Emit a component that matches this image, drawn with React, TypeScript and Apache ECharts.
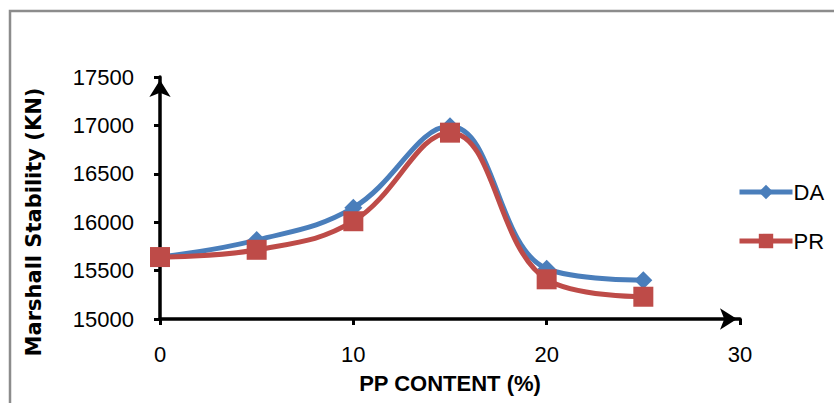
import React, { useEffect, useRef } from "react";
import * as echarts from "echarts";

const ppContent = [0, 5, 10, 15, 20, 25];
const daValues = [15640, 15815, 16150, 16990, 15520, 15400];
const prValues = [15640, 15715, 16010, 16925, 15410, 15230];
const seriesNames = ["DA", "PR"];
const xTitle = "PP CONTENT (%)";
const yTitle = "Marshall Stability (KN)";

export default function App() {
  const ref = useRef<HTMLDivElement>(null);
  useEffect(() => {
    const chart = echarts.init(ref.current!, null, { renderer: "svg" });
    const tickFont = { fontFamily: "Liberation Sans", fontSize: 22, color: "#000" };
    chart.setOption({
      animation: false,
      backgroundColor: "#fff",
      graphic: [
        {
          type: "polyline",
          shape: { points: [[10, 403], [10, 11], [834, 11]] },
          style: { stroke: "#8c8c8c", lineWidth: 2.5, fill: "none" },
          silent: true,
        },
        {
          type: "text",
          x: 34,
          y: 222,
          rotation: Math.PI / 2,
          style: {
            text: yTitle,
            fontFamily: "DejaVu Sans",
            fontWeight: "bold",
            fontSize: 21,
            fill: "#000",
            align: "center",
            verticalAlign: "middle",
          },
          silent: true,
        },
      ],
      grid: { left: 160, right: 94, top: 77, bottom: 84 },
      legend: {
        orient: "vertical",
        left: 732,
        top: 176,
        itemWidth: 53,
        itemHeight: 18,
        itemGap: 27,
        lineStyle: { width: 5 },
        textStyle: { ...tickFont, fontSize: 22, padding: [0, 0, 0, -4] },
        data: seriesNames,
      },
      xAxis: {
        type: "value",
        min: 0,
        max: 30,
        interval: 10,
        name: xTitle,
        nameLocation: "middle",
        nameGap: 53,
        nameTextStyle: { fontFamily: "Liberation Sans", fontWeight: "bold", fontSize: 22, color: "#000" },
        axisLine: { lineStyle: { color: "#000", width: 3.5 }, symbol: ["none", "arrow"], symbolSize: [16, 17], symbolOffset: [0, -3] },
        axisTick: { show: true, inside: false, length: 6, lineStyle: { color: "#000", width: 3 } },
        axisLabel: { ...tickFont, margin: 24 },
        splitLine: { show: false },
      },
      yAxis: {
        type: "value",
        min: 15000,
        max: 17500,
        interval: 500,
        axisLine: { show: true, lineStyle: { color: "#000", width: 3.5 }, symbol: ["none", "arrow"], symbolSize: [16, 17], symbolOffset: [0, -3] },
        axisTick: { show: true, inside: false, length: 6, lineStyle: { color: "#000", width: 3 } },
        axisLabel: { ...tickFont, margin: 26, formatter: (v: number) => String(v) },
        splitLine: { show: false },
      },
      series: [
        {
          name: seriesNames[0],
          type: "line",
          smooth: 0.4,
          data: ppContent.map((x, i) => [x, daValues[i]]),
          symbol: "diamond",
          symbolSize: 18,
          lineStyle: { color: "#4a7ebb", width: 5 },
          itemStyle: { color: "#4a7ebb" },
        },
        {
          name: seriesNames[1],
          type: "line",
          smooth: 0.4,
          data: ppContent.map((x, i) => [x, prValues[i]]),
          symbol: "rect",
          symbolSize: 20,
          lineStyle: { color: "#be4b48", width: 5 },
          itemStyle: { color: "#be4b48" },
        },
      ],
    });
    return () => chart.dispose();
  }, []);
  return <div ref={ref} style={{ width: 834, height: 403, position: "absolute", left: 0, top: 0 }} />;
}
